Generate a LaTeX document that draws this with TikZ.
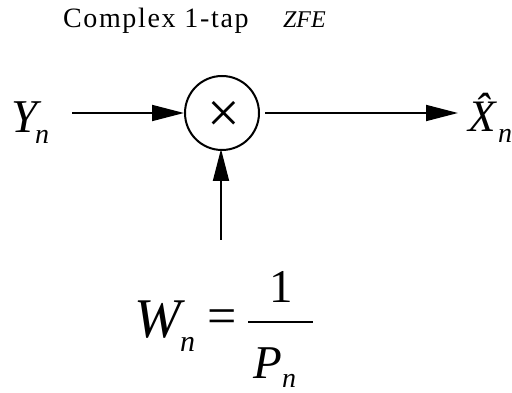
\documentclass[tikz,border=0pt]{standalone}
\usepackage{fontspec}
\setmainfont{Liberation Serif}
\usetikzlibrary{arrows.meta}
\tikzset{
  conn/.style={line width=1.8pt, -{Triangle[length=32pt,width=16pt]}},
  lbl/.style={inner sep=0pt, outer sep=0pt, anchor=base west},
}
\newcommand{\fs}[1]{\fontsize{#1}{#1}\selectfont}
\begin{document}
\begin{tikzpicture}[x=1pt,y=-1pt]
\useasboundingbox (0,0) rectangle (512,393);
% title
\node[lbl] (title) at (63,28) {\fs{28}\addfontfeature{LetterSpace=6}Complex 1-tap};
\node[lbl] (zfe) at (283,28) {\fs{24}\itshape ZFE};
% multiplier
\node[circle, draw, line width=2pt, minimum size=74pt, inner sep=0pt] (m) at (222,113) {};
\node[inner sep=0pt] (times) at (224,117) {\fs{58}×};
% input
\node[lbl] (yn) at (12,133) {\fs{47}\itshape Y};
\node[lbl] (ynsub) at (35,144) {\fs{28}\itshape n};
% output
\node[lbl] (xn) at (468,132) {\fs{45}\itshape \^X};
\node[lbl] (xnsub) at (498,143) {\fs{28}\itshape n};
% formula
\node[lbl] (w) at (134,337) {\fs{56}\itshape W};
\node[lbl] (wsub) at (180,351) {\fs{30}\itshape n};
\node[inner sep=0pt] (eq) at (222,322) {\fs{52}=};
\node[inner sep=0pt, anchor=base] (one) at (281,302) {\fs{47}1};
\node[lbl] (p) at (253,378) {\fs{47}\itshape P};
\node[lbl] (psub) at (282,387) {\fs{28}\itshape n};
\coordinate (barl) at (248,322);
\coordinate (barr) at (313,322);
\draw[line width=1.8pt] (barl) -- (barr);
% connectors
\coordinate (yin) at (72,113);
\coordinate (xout) at (458,113);
\coordinate (win) at (221,240);
\draw[conn] (yin) -- (m.west);
\draw[conn] ([xshift=5pt]m.east) -- (xout);
\draw[conn] (win) -- ([yshift=2pt]m.south -| win);
\end{tikzpicture}
\end{document}
